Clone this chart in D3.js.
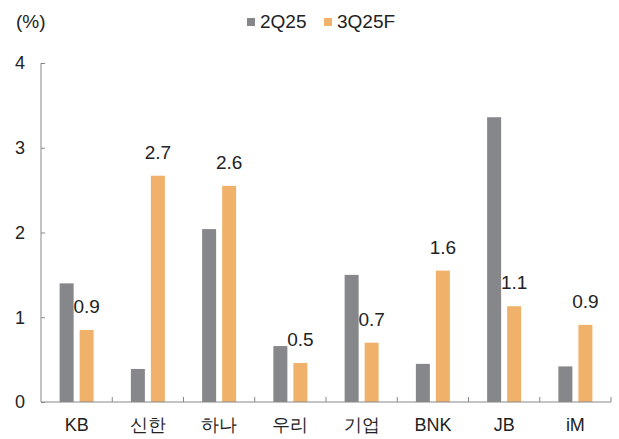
<!DOCTYPE html>
<html>
<head>
<meta charset="utf-8">
<script src="https://cdn.jsdelivr.net/npm/d3@7"></script>
<style>
  body { margin: 0; background: #fff; }
  svg { font-family: "Liberation Sans", Arial, "Noto Sans CJK KR", sans-serif; }
</style>
</head>
<body>
<div id="chart"></div>
<script>
// data
const banks = ["KB", "신한", "하나", "우리", "기업", "BNK", "JB", "iM"];
const series = ["2Q25", "3Q25F"];
const q2 = [1.40, 0.39, 2.04, 0.66, 1.50, 0.45, 3.36, 0.42];
const q3 = [0.85, 2.67, 2.55, 0.46, 0.70, 1.55, 1.13, 0.91];
const q3Labels = ["0.9", "2.7", "2.6", "0.5", "0.7", "1.6", "1.1", "0.9"];
const yTicks = [0, 1, 2, 3, 4];

const colors = { "2Q25": "#85878a", "3Q25F": "#f0b26a" };

const W = 619, H = 439;
const margin = { top: 63, right: 8, bottom: 37, left: 41 };
const width = W - margin.left - margin.right;
const height = H - margin.top - margin.bottom;

const svg = d3.select("#chart")
    .append("svg")
    .attr("width", W)
    .attr("height", H);

const g = svg.append("g")
    .attr("transform", `translate(${margin.left},${margin.top})`);

const x = d3.scaleBand().domain(banks).range([0, width]).padding(0);
const inner = d3.scaleBand().domain(series)
    .range([x.bandwidth() / 2 - 17, x.bandwidth() / 2 + 17])
    .paddingInner(0.3).paddingOuter(0);
const y = d3.scaleLinear().domain([0, 4]).range([height, 0]);

const rows = banks.map((b, i) => ({ bank: b, "2Q25": q2[i], "3Q25F": q3[i], label: q3Labels[i] }));

// bars
const groups = g.selectAll(".grp")
    .data(rows)
    .enter().append("g")
    .attr("transform", d => `translate(${x(d.bank)},0)`);

groups.selectAll("rect")
    .data(d => series.map(s => ({ s, v: d[s] })))
    .enter().append("rect")
    .attr("x", d => inner(d.s))
    .attr("width", inner.bandwidth())
    .attr("y", d => y(d.v))
    .attr("height", d => y(0) - y(d.v))
    .attr("fill", d => colors[d.s]);

// value labels over 3Q25F
groups.append("text")
    .attr("x", inner("3Q25F") + inner.bandwidth() / 2)
    .attr("y", d => y(d["3Q25F"]) - 17)
    .attr("text-anchor", "middle")
    .attr("font-size", 19)
    .attr("fill", "#222")
    .text(d => d.label);

// y axis
const yAxis = g.append("g")
    .call(d3.axisRight(y).tickValues(yTicks).tickSize(4).tickFormat(d3.format("d")));
yAxis.select(".domain").attr("stroke", "#888").attr("d", `M0,0V${height}`);
yAxis.selectAll(".tick line").attr("stroke", "#888");
yAxis.selectAll(".tick text")
    .attr("x", -16)
    .attr("text-anchor", "end")
    .attr("font-size", 18)
    .attr("fill", "#222");

// x axis
const xAxis = g.append("g")
    .attr("transform", `translate(0,${height})`)
    .call(d3.axisBottom(x).tickSize(0));
xAxis.select(".domain").attr("stroke", "#888").attr("d", `M0,0H${width}`);
xAxis.selectAll(".tick text")
    .attr("y", 16)
    .attr("font-size", 18)
    .attr("fill", "#222");

// boundary ticks between categories
g.append("g").selectAll("line")
    .data(banks.slice(1).concat(["end"]))
    .enter().append("line")
    .attr("x1", (d, i) => x.step() * (i + 1))
    .attr("x2", (d, i) => x.step() * (i + 1))
    .attr("y1", height)
    .attr("y2", height - 5)
    .attr("stroke", "#888");

// unit
svg.append("text")
    .attr("x", 16)
    .attr("y", 28)
    .attr("font-size", 19)
    .attr("fill", "#222")
    .text("(%)");

// legend
const legendX = [247, 324];
const legend = svg.selectAll(".legend")
    .data(series)
    .enter().append("g")
    .attr("transform", (d, i) => `translate(${legendX[i]},0)`);

legend.append("rect")
    .attr("y", 18)
    .attr("width", 8)
    .attr("height", 8)
    .attr("fill", d => colors[d]);

legend.append("text")
    .attr("x", 13)
    .attr("y", 28)
    .attr("font-size", 19)
    .attr("fill", "#222")
    .text(d => d);
</script>
</body>
</html>
